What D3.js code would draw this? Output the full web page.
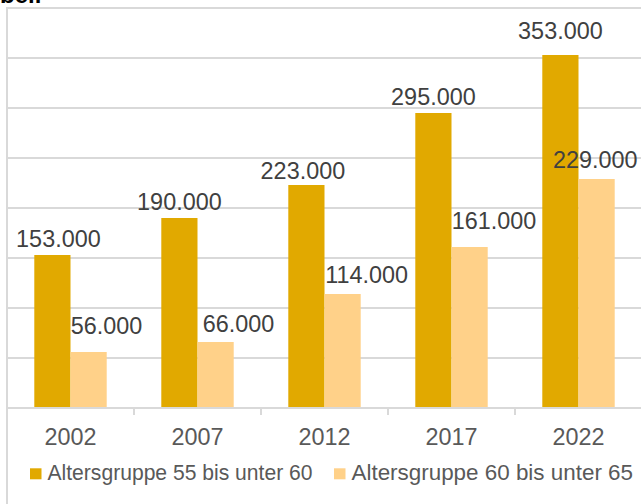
<!DOCTYPE html>
<html>
<head>
<meta charset="utf-8">
<script src="https://cdn.jsdelivr.net/npm/d3@7"></script>
<style>
  html, body { margin: 0; padding: 0; background: #fff; }
  svg { display: block; }
</style>
</head>
<body>
<script>
// ---- data ----
const years = ["2002", "2007", "2012", "2017", "2022"];
const seriesNames = ["Altersgruppe 55 bis unter 60", "Altersgruppe 60 bis unter 65"];
const values55 = [153000, 190000, 223000, 295000, 353000];
const values60 = [56000, 66000, 114000, 161000, 229000];
const yTicks = [0, 50000, 100000, 150000, 200000, 250000, 300000, 350000, 400000];

// ---- presentation ----
const W = 641, H = 504;
const colors = ["#E1A900", "#FFD189"];
// manual label offsets (as in the reference)
const labelDx = [[6, 0, -3.5, 0, 0], [18, 23, 24, 24.5, -1.3]];
const labelDy = [[0, 0, 2, 0, -8], [-10.5, -2.5, -2.7, -9.7, -3]];

const svg = d3.select("body").append("svg").attr("width", W).attr("height", H);

const x = d3.scaleBand().domain(years).range([7, 642]).paddingInner(0).paddingOuter(0);
const x1 = d3.scaleBand().domain(seriesNames).range([0, x.bandwidth()]).paddingInner(0).paddingOuter(0.754);
const y = d3.scaleLinear().domain([0, 400000]).range([408, 8]);

// title fragment (cut off at top, as in the reference)
svg.append("text").attr("x", 0).attr("y", 3)
  .attr("font-family", "Liberation Sans, Arial, sans-serif")
  .attr("font-weight", "bold").attr("font-size", 24).attr("fill", "#000")
  .text("bell");

// gridlines
svg.append("g").selectAll("line").data(yTicks.filter(d => d > 0)).join("line")
  .attr("x1", 7).attr("x2", W).attr("y1", d => y(d)).attr("y2", d => y(d))
  .attr("stroke", "#D9D9D9").attr("stroke-width", 2);

// left frame line
svg.append("line").attr("x1", 7).attr("x2", 7).attr("y1", y(400000) - 1).attr("y2", H)
  .attr("stroke", "#D9D9D9").attr("stroke-width", 2);

// bars
const series = [values55, values60];
series.forEach((vals, si) => {
  svg.append("g").selectAll("rect").data(vals).join("rect")
    .attr("x", (d, i) => x(years[i]) + x1(seriesNames[si]))
    .attr("width", x1.bandwidth())
    .attr("y", d => y(d))
    .attr("height", d => y(0) - y(d))
    .attr("fill", colors[si]);
});

// x axis
const xAxis = d3.axisBottom(x).tickSize(0).tickSizeOuter(0).tickPadding(20);
const gx = svg.append("g").attr("transform", `translate(0,${y(0)})`).call(xAxis);
gx.select(".domain").remove();
gx.selectAll("text").attr("font-family", "Liberation Sans, Arial, sans-serif")
  .attr("font-size", 23.4).attr("fill", "#595959").attr("dy", "0.71em");
svg.append("line").attr("x1", 7).attr("x2", W).attr("y1", y(0)).attr("y2", y(0))
  .attr("stroke", "#D9D9D9").attr("stroke-width", 2);
svg.append("g").selectAll("line").data(years.slice(1)).join("line")
  .attr("x1", d => x(d)).attr("x2", d => x(d)).attr("y1", y(0)).attr("y2", y(0) + 7)
  .attr("stroke", "#D9D9D9").attr("stroke-width", 2);

// data labels
const fmt = v => d3.format(",")(v).replace(/,/g, ".");
series.forEach((vals, si) => {
  svg.append("g").selectAll("text").data(vals).join("text")
    .attr("x", (d, i) => x(years[i]) + x1(seriesNames[si]) + x1.bandwidth() / 2 + labelDx[si][i])
    .attr("y", (d, i) => y(d) - 8 + labelDy[si][i])
    .attr("text-anchor", "middle")
    .attr("font-family", "Liberation Sans, Arial, sans-serif")
    .attr("font-size", 23.4).attr("fill", "#404040")
    .text(d => fmt(d));
});

// legend
const legendX = [30, 334];
const legendLen = [265, 281.5];
const lg = svg.append("g");
seriesNames.forEach((name, si) => {
  lg.append("rect").attr("x", legendX[si]).attr("y", 468.3).attr("width", 11.5).attr("height", 11)
    .attr("fill", colors[si]);
  lg.append("text").attr("x", legendX[si] + 17.5).attr("y", 480)
    .attr("font-family", "Liberation Sans, Arial, sans-serif")
    .attr("font-size", 22).attr("fill", "#595959")
    .attr("textLength", legendLen[si]).attr("lengthAdjust", "spacingAndGlyphs")
    .text(name);
});
</script>
</body>
</html>
